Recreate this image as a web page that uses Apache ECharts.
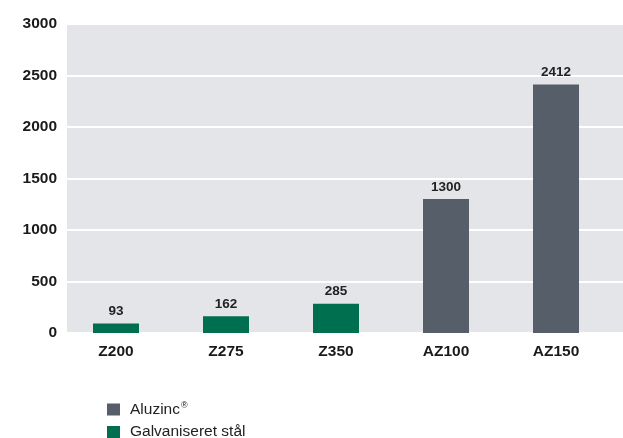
<!DOCTYPE html>
<html>
<head>
<meta charset="utf-8">
<script src="https://cdn.jsdelivr.net/npm/echarts@6/dist/echarts.min.js"></script>
<style>
html,body{margin:0;padding:0;background:#fff;}
#chart{width:623px;height:438px;}
</style>
</head>
<body>
<div id="chart"></div>
<script>
const categories = ['Z200', 'Z275', 'Z350', 'AZ100', 'AZ150'];
const aluzincValues = ['-', '-', '-', 1300, 2412];
const galvValues = [93, 162, 285, '-', '-'];
const seriesNames = ['Aluzinc', 'Galvaniseret stål'];
const yTicks = { min: 0, max: 3000, interval: 500 };

const FONT = 'Liberation Sans, Arial, Helvetica, sans-serif';
const chart = echarts.init(document.getElementById('chart'));

const barLabel = {
  show: true, position: 'top', distance: 5,
  fontFamily: FONT, fontSize: 13.5, fontWeight: 'bold', color: '#222'
};

const legendText = {
  padding: [0, 0, 0, 5],
  rich: {
    a: { fontFamily: FONT, fontSize: 15.5, color: '#222', lineHeight: 16 },
    s: { fontFamily: FONT, fontSize: 9, color: '#222', verticalAlign: 'top', padding: [0, 0, 8, 1] }
  }
};
const legendFmt = function (n) { return n === 'Aluzinc' ? '{a|Aluzinc}{s|®}' : '{a|' + n + '}'; };

chart.setOption({
  animation: false,
  backgroundColor: '#ffffff',
  grid: [
    { left: 67, right: 0, top: 24, bottom: 105, show: true, backgroundColor: '#e4e5e9', borderWidth: 0 },
    { left: 61, right: 12, top: 24, bottom: 105 }
  ],
  xAxis: [
    { type: 'category', gridIndex: 0, data: categories, show: false },
    {
      type: 'category', gridIndex: 1, data: categories,
      axisLine: { show: false }, axisTick: { show: false },
      axisLabel: { margin: 11, fontFamily: FONT, fontSize: 15.5, fontWeight: 'bold', color: '#1a1a1a' }
    }
  ],
  yAxis: [
    {
      type: 'value', gridIndex: 0, min: yTicks.min, max: yTicks.max, interval: yTicks.interval,
      axisLine: { show: false }, axisTick: { show: false },
      axisLabel: { margin: 10, fontFamily: FONT, fontSize: 15.5, fontWeight: 'bold', color: '#1a1a1a',
        formatter: function (v) { return String(v); } },
      splitLine: { show: true, lineStyle: { color: '#ffffff', width: 2 } }
    },
    {
      type: 'value', gridIndex: 1, min: yTicks.min, max: yTicks.max, interval: yTicks.interval,
      show: false, splitLine: { show: false }
    }
  ],
  legend: [
    {
      left: 107, top: 401, padding: 0, itemWidth: 13, itemHeight: 12, icon: 'rect',
      data: [seriesNames[0]], formatter: legendFmt, textStyle: legendText
    },
    {
      left: 107, top: 424, padding: 0, itemWidth: 13, itemHeight: 12, icon: 'rect',
      data: [seriesNames[1]], formatter: legendFmt, textStyle: legendText
    }
  ],
  series: [
    {
      name: seriesNames[0], type: 'bar', xAxisIndex: 1, yAxisIndex: 1, stack: 'all',
      data: aluzincValues, barWidth: 46, itemStyle: { color: '#555e69' }, label: barLabel
    },
    {
      name: seriesNames[1], type: 'bar', xAxisIndex: 1, yAxisIndex: 1, stack: 'all',
      data: galvValues, barWidth: 46, itemStyle: { color: '#006f4f' }, label: barLabel
    }
  ]
});
</script>
</body>
</html>
